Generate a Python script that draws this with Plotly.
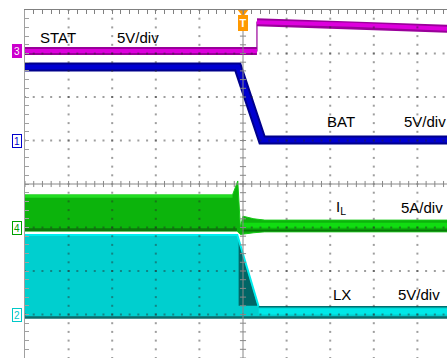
import numpy as np
import plotly.graph_objects as go

# ---------------- data (time and amplitude in screen divisions) ----------------
stat_t = [0.0, 5.32, 5.32, 7.5, 9.7]
stat_v = [3.06, 3.06, 3.72, 3.66, 3.57]

bat_t = [0.0, 4.88, 5.44, 9.7]
bat_v = [2.69, 2.69, 1.01, 1.01]

il_up_t = [0.0, 4.76, 4.88, 4.94, 5.0, 5.25, 5.5, 9.7]
il_up_v = [-0.25, -0.25, 0.07, -1.0, -0.74, -0.80, -0.83, -0.83]
il_lo_t = [0.0, 4.86, 4.94, 5.0, 5.25, 5.5, 9.7]
il_lo_v = [-1.08, -1.08, -1.16, -1.14, -1.12, -1.10, -1.10]
il_after_t = [4.98, 9.7]
il_after_v = [-0.95, -0.95]

lx_up_t = [0.0, 4.87, 5.36, 9.7]
lx_up_v = [-1.17, -1.17, -2.82, -2.82]
lx_lo_t = [0.0, 9.7]
lx_lo_v = [-3.07, -3.07]
lx_shadow_t = [4.90, 5.34, 4.90]
lx_shadow_v = [-1.30, -2.80, -2.80]

labels = ["STAT", "BAT", "I<sub>L</sub>", "LX"]
label_t = [0.30, 6.88, 7.09, 7.02]
label_v = [3.36, 1.43, -0.55, -2.53]
scale_text = ["5V/div", "5V/div", "5A/div", "5V/div"]
scale_t = [2.06, 8.65, 8.58, 8.51]

ch_names = ["3", "1", "4", "2"]
ch_levels = [3.06, 0.99, -1.01, -3.01]
ch_colors = ["#cc00cc", "#0000cc", "#00a000", "#00c8c8"]

X_MAX = 422 / 43.6
fig = go.Figure()

# ---------------- waveforms ----------------
# LX (cyan)
fig.add_trace(go.Scatter(x=lx_up_t + lx_lo_t[::-1], y=lx_up_v + lx_lo_v[::-1],
                         fill="toself", fillcolor="#00cfcf", mode="lines",
                         line=dict(width=0, color="#00cfcf")))
fig.add_trace(go.Scatter(x=lx_shadow_t + lx_shadow_t[:1], y=lx_shadow_v + lx_shadow_v[:1],
                         fill="toself", fillcolor="#006666", mode="lines",
                         line=dict(width=0, color="#006666")))
fig.add_trace(go.Scatter(x=lx_up_t[:3], y=lx_up_v[:3], mode="lines",
                         line=dict(width=2, color="#00eeee")))
fig.add_trace(go.Scatter(x=lx_up_t[2:], y=[v - 0.11 for v in lx_up_v[2:]], mode="lines",
                         line=dict(width=6, color="#00e8e8")))
fig.add_trace(go.Scatter(x=lx_up_t[2:], y=lx_up_v[2:], mode="lines",
                         line=dict(width=1.5, color="#007070")))
fig.add_trace(go.Scatter(x=lx_lo_t, y=lx_lo_v, mode="lines",
                         line=dict(width=2.5, color="#0b6b6b")))

# IL (green)
fig.add_trace(go.Scatter(x=il_up_t + il_lo_t[::-1], y=il_up_v + il_lo_v[::-1],
                         fill="toself", fillcolor="#0cb40c", mode="lines",
                         line=dict(width=1, color="#16c816")))
fig.add_trace(go.Scatter(x=il_up_t[:2], y=[v - 0.03 for v in il_up_v[:2]], mode="lines",
                         line=dict(width=3, color="#22dd22")))
fig.add_trace(go.Scatter(x=il_lo_t[:2], y=[v + 0.03 for v in il_lo_v[:2]], mode="lines",
                         line=dict(width=3, color="#0a7a0a")))
fig.add_trace(go.Scatter(x=il_after_t, y=il_after_v, mode="lines",
                         line=dict(width=5, color="#11dd11")))
fig.add_trace(go.Scatter(x=il_after_t, y=[v - 0.12 for v in il_after_v], mode="lines",
                         line=dict(width=2, color="#077a07")))

# BAT (blue)
fig.add_trace(go.Scatter(x=bat_t, y=bat_v, mode="lines",
                         line=dict(width=9, color="#00008c")))
fig.add_trace(go.Scatter(x=bat_t, y=bat_v, mode="lines",
                         line=dict(width=5, color="#0000d0")))

# STAT (magenta)
seg_x = stat_t[:2] + [None] + stat_t[2:]
seg_y = stat_v[:2] + [None] + stat_v[2:]
fig.add_trace(go.Scatter(x=stat_t, y=stat_v, mode="lines",
                         line=dict(width=1.2, color="#990099")))
fig.add_trace(go.Scatter(x=seg_x, y=seg_y, mode="lines",
                         line=dict(width=8, color="#9a009a")))
fig.add_trace(go.Scatter(x=seg_x, y=seg_y, mode="lines",
                         line=dict(width=4, color="#dd00dd")))

# ---------------- graticule dots ----------------
gx, gy = [], []
for c in range(1, 10):
    if c == 5:
        continue
    for k in range(41):
        gx.append(c); gy.append(-4 + 0.2 * k)
for r in range(-3, 4):
    if r == 0:
        continue
    for k in range(49):
        gx.append(0.2 * k); gy.append(r)
fig.add_trace(go.Scatter(x=gx, y=gy, mode="markers",
                         marker=dict(size=2, symbol="square", color="rgba(40,40,40,0.45)",
                                     line=dict(width=0))))

# trigger marker
fig.add_trace(go.Scatter(x=[5.0], y=[3.95], mode="markers", cliponaxis=False,
                         marker=dict(size=9, symbol="triangle-down", color="#ff9900")))

# ---------------- center crosshair with ticks ----------------
shapes = [
    dict(type="line", xref="x", yref="y", x0=0, x1=X_MAX, y0=0, y1=0,
         line=dict(color="#888888", width=1), layer="above"),
    dict(type="line", xref="x", yref="y", x0=5, x1=5, y0=-4, y1=4,
         line=dict(color="#888888", width=1), layer="above"),
]
for k in range(49):
    shapes.append(dict(type="line", xref="x", yref="y", x0=0.2 * k, x1=0.2 * k,
                       y0=-0.07, y1=0.07, line=dict(color="#888888", width=1), layer="above"))
for k in range(41):
    shapes.append(dict(type="line", xref="x", yref="y", x0=4.93, x1=5.07,
                       y0=-4 + 0.2 * k, y1=-4 + 0.2 * k,
                       line=dict(color="#888888", width=1), layer="above"))

# ---------------- annotations ----------------
ann = []
font = "Arial, Liberation Sans, sans-serif"
for name, t, v in zip(labels, label_t, label_v):
    ann.append(dict(x=t, y=v, xref="x", yref="y", text=name, showarrow=False,
                    xanchor="left", yanchor="middle", font=dict(family=font, size=15, color="black")))
for s, t, v in zip(scale_text, scale_t, label_v):
    ann.append(dict(x=t, y=v, xref="x", yref="y", text=s, showarrow=False,
                    xanchor="left", yanchor="middle", font=dict(family=font, size=15, color="black")))
for name, lev, col in zip(ch_names, ch_levels, ch_colors):
    filled = name == "3"
    ann.append(dict(x=-8 / 422, y=lev, xref="paper", yref="y", text=name, showarrow=False,
                    xanchor="center", yanchor="middle", width=8, height=12, borderpad=0,
                    bgcolor=col if filled else "white", bordercolor=col, borderwidth=1,
                    font=dict(family=font, size=10, color="white" if filled else col)))
ann.append(dict(x=5.0, y=3.71, xref="x", yref="y", text="<b>T</b>", showarrow=False,
                xanchor="center", yanchor="middle", width=8, height=14, borderpad=0,
                bgcolor="#ff9900", bordercolor="#ff9900", borderwidth=1,
                font=dict(family=font, size=11, color="white")))

fig.update_layout(
    width=447, height=358,
    margin=dict(l=25, r=0, t=10, b=0, pad=0),
    paper_bgcolor="white", plot_bgcolor="white",
    showlegend=False, hovermode=False,
    shapes=shapes, annotations=ann,
    xaxis=dict(range=[0, X_MAX], side="top", showgrid=False, zeroline=False,
               showline=True, linecolor="#808080", linewidth=1,
               ticks="inside", tick0=0, dtick=0.2, ticklen=4, tickcolor="#808080",
               showticklabels=False),
    yaxis=dict(range=[-4, 4], showgrid=False, zeroline=False,
               showline=True, linecolor="#a0a0a0", linewidth=1,
               ticks="inside", tick0=0, dtick=0.2, ticklen=4, tickcolor="#a0a0a0",
               showticklabels=False),
)

# remove the default page margin so the figure fills the window exactly
fig.write_html("out.html", config={"displayModeBar": False, "staticPlot": True},
               post_script="document.body.style.margin='0';document.body.style.overflow='hidden';")
